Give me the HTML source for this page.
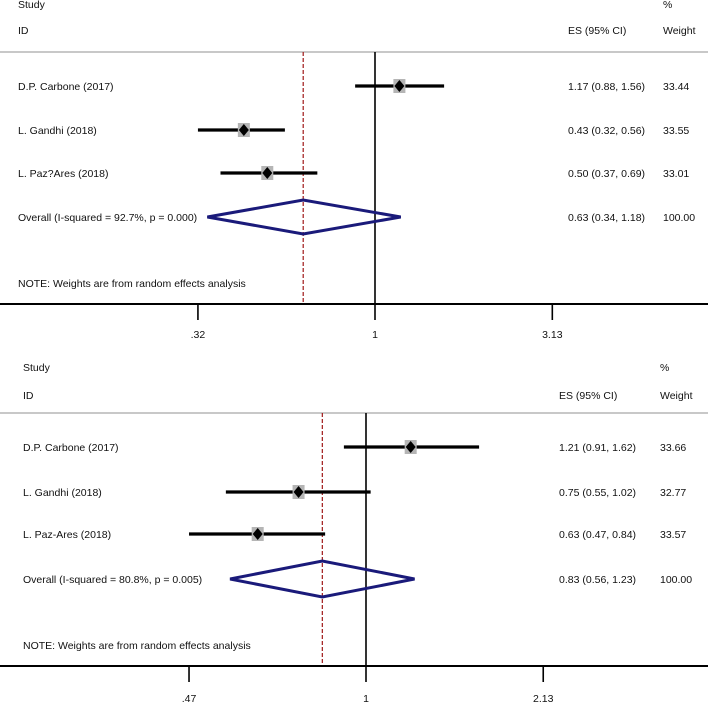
<!DOCTYPE html>
<html><head><meta charset="utf-8"><style>
body{margin:0;background:#fff}
svg text{font-family:"Liberation Sans",Arial,sans-serif;font-size:10.5px;fill:#111}
</style></head><body>
<svg id="c" width="708" height="704"></svg>
<script>
const studies1=["D.P. Carbone (2017)","L. Gandhi (2018)","L. Paz?Ares (2018)"];
const es1=[1.17,0.43,0.50];
const lo1=[0.88,0.32,0.37];
const hi1=[1.56,0.56,0.69];
const w1=["33.44","33.55","33.01"];
const overall1=[0.63,0.34,1.18];
const het1="Overall  (I-squared = 92.7%, p = 0.000)";
const ticks1=[0.32,1,3.13];
const tickLabels1=[".32","1","3.13"];

const studies2=["D.P. Carbone (2017)","L. Gandhi (2018)","L. Paz-Ares (2018)"];
const es2=[1.21,0.75,0.63];
const lo2=[0.91,0.55,0.47];
const hi2=[1.62,1.02,0.84];
const w2=["33.66","32.77","33.57"];
const overall2=[0.83,0.56,1.23];
const het2="Overall  (I-squared = 80.8%, p = 0.005)";
const ticks2=[0.47,1,2.13];
const tickLabels2=[".47","1","2.13"];

const NS="http://www.w3.org/2000/svg";
const svg=document.getElementById('c');
function mk(t,a,p){const e=document.createElementNS(NS,t);for(const k in a)e.setAttribute(k,a[k]);(p||svg).appendChild(e);return e;}
function txt(x,y,s,g,anchor){const t=mk('text',{x:x,y:y,'text-anchor':anchor||'start'},g);t.textContent=s;return t;}
function fmt(v){return v.toFixed(2);}

function panel(o){
  const g=mk('g',{});
  
  
  const X=v=>o.x1+Math.log(v)*o.k;
  const t1=txt(o.lx,o.y0,"Study",g);
  const t2=txt(o.lx,o.y1,"ID",g);
  const t3=txt(o.wx,o.y0,"%",g);
  const t4=txt(o.ex,o.y1,"ES (95% CI)",g);
  const t5=txt(o.wx,o.y1,"Weight",g);
  const hl=mk('line',{x1:0,x2:708,y1:o.gl,y2:o.gl,stroke:'#c8c8c8','stroke-width':2},g);
  
  const ref=mk('line',{x1:X(1),x2:X(1),y1:o.gl,y2:o.ax,stroke:'#000','stroke-width':1.6},g);
  
  const rd=mk('line',{x1:X(o.ov[0]),x2:X(o.ov[0]),y1:o.gl,y2:o.ax,stroke:'#a01818','stroke-width':1.2,'stroke-dasharray':'4,2'},g);
  
  for(let i=0;i<o.st.length;i++){
    const y=o.rows[i];
    const lb=txt(o.lx,y+4,o.st[i],g);
    const ci=mk('line',{x1:X(o.lo[i]),x2:X(o.hi[i]),y1:y,y2:y,stroke:'#000','stroke-width':3.2},g);
    
    const xe=X(o.es[i]);
    const sq=mk('rect',{x:xe-6,y:y-7,width:12,height:14,fill:'#b5b5b5'},g);
    
    const dm=mk('polygon',{points:`${xe-5},${y} ${xe},${y-6} ${xe+5},${y} ${xe},${y+6}`,fill:'#000'},g);
    
    const et=txt(o.ex,y+4,`${fmt(o.es[i])} (${fmt(o.lo[i])}, ${fmt(o.hi[i])})`,g);
    const wt=txt(o.wx,y+4,o.w[i],g);
  }
  const oy=o.oy;
  const ol=txt(o.lx,oy+4,o.het,g);
  const d=mk('polygon',{points:`${X(o.ov[1])},${oy} ${X(o.ov[0])},${oy-o.dh} ${X(o.ov[2])},${oy} ${X(o.ov[0])},${oy+o.dh}`,fill:'none',stroke:'#1a1a7a','stroke-width':3},g);
  
  const oe=txt(o.ex,oy+4,`${fmt(o.ov[0])} (${fmt(o.ov[1])}, ${fmt(o.ov[2])})`,g);
  const ow=txt(o.wx,oy+4,"100.00",g);
  const nt=txt(o.lx,o.ny,"NOTE: Weights are from random effects analysis",g);
  const al=mk('line',{x1:0,x2:708,y1:o.ax,y2:o.ax,stroke:'#000','stroke-width':2},g);
  
  for(let i=0;i<o.ticks.length;i++){
    const tx=X(o.ticks[i]);
    const tk=mk('line',{x1:tx,x2:tx,y1:o.ax,y2:o.ax+16,stroke:'#000','stroke-width':1.6},g);
    
    const tl=txt(tx,o.tly,o.tl[i],g,'middle');
  }
}
panel({name:'forest-plot-top',x1:375,k:155.4,lx:18,ex:568,wx:663,y0:8,y1:34,gl:52,rows:[86,130,173],oy:217,dh:17,ny:287,ax:304,tly:338,
  st:studies1,es:es1,lo:lo1,hi:hi1,w:w1,ov:overall1,het:het1,ticks:ticks1,tl:tickLabels1});
panel({name:'forest-plot-bottom',x1:366,k:234.4,lx:23,ex:559,wx:660,y0:371,y1:399,gl:413,rows:[447,492,534],oy:579,dh:18,ny:649,ax:666,tly:702,
  st:studies2,es:es2,lo:lo2,hi:hi2,w:w2,ov:overall2,het:het2,ticks:ticks2,tl:tickLabels2});
</script>
</body></html>
